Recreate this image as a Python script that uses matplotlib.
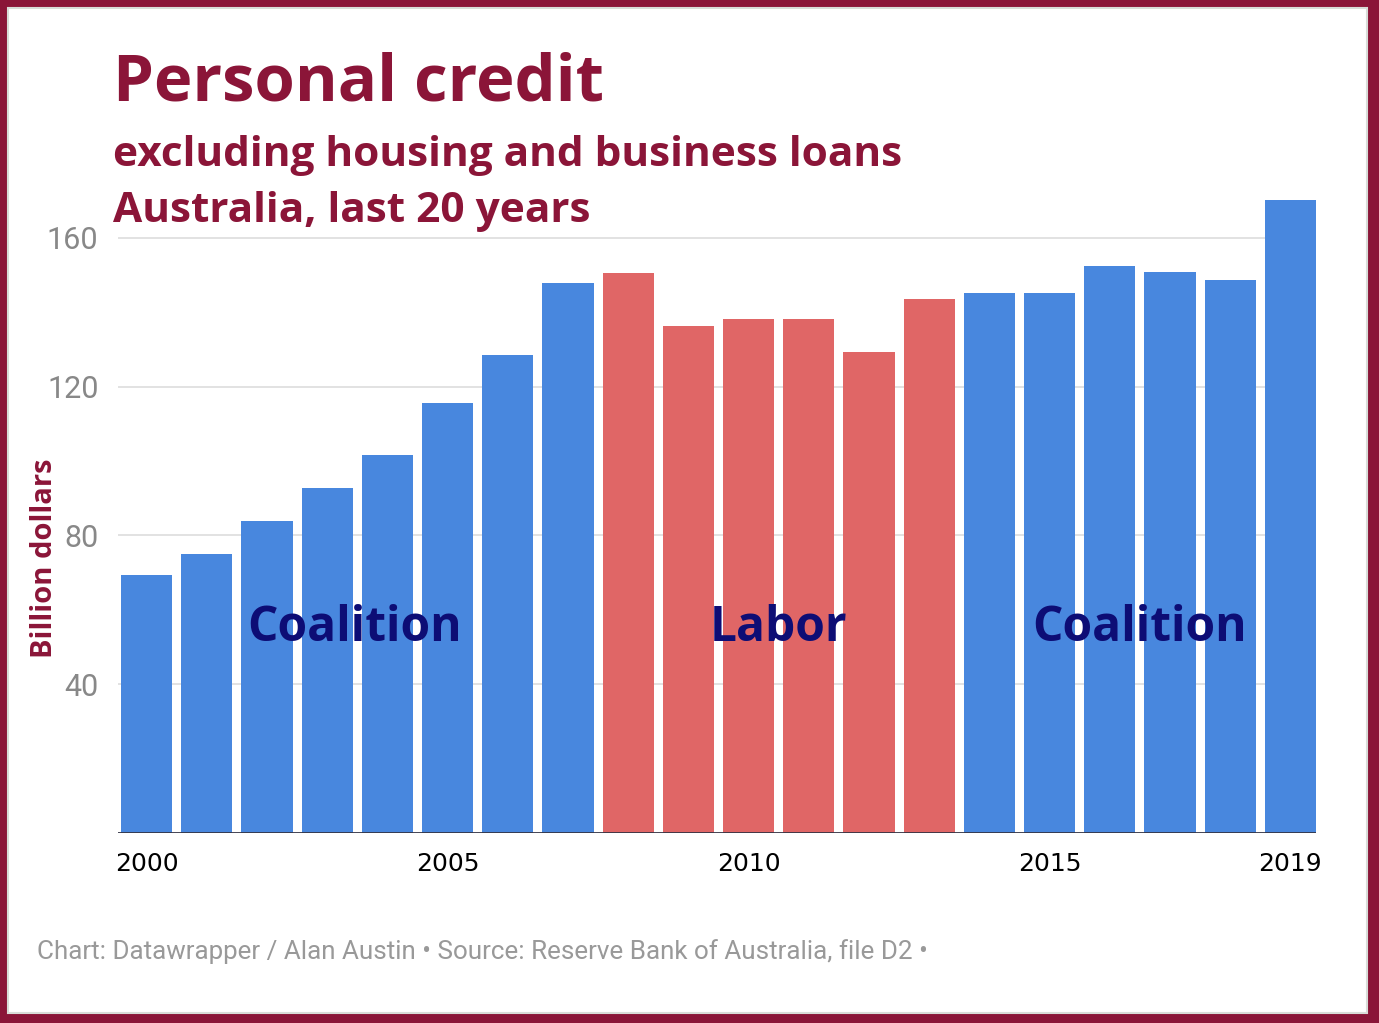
import numpy as np
import matplotlib.pyplot as plt
from matplotlib.patches import Rectangle

# data
years = np.arange(2000, 2020)
credit = [69.5, 75, 84, 92.7, 101.6, 115.6, 128.5, 147.8, 150.5, 136.3,
          138.2, 138.2, 129.3, 143.5, 145.2, 145.2, 152.4, 150.8, 148.7, 170.2]
party = ["C"] * 8 + ["L"] * 6 + ["C"] * 6
tick_years = [2000, 2005, 2010, 2015, 2019]
y_ticks = [40, 80, 120, 160]
labels = [("Coalition", 3.45), ("Labor", 10.5), ("Coalition", 16.5)]

W, H = 1379, 1023
fig = plt.figure(figsize=(W / 100, H / 100), dpi=100)
fig.patch.set_facecolor("#8a1538")

# white card inside the maroon frame
fig.patches.append(Rectangle((8 / W, 10 / H), (1367 - 8) / W, (1015 - 10) / H,
                             transform=fig.transFigure, facecolor="white",
                             edgecolor="#d8dcd8", lw=1.5, zorder=-10))

maroon = "#8b1538"
blue = "#4887de"
red = "#e06666"

left, right = 118 / W, 1316 / W
bottom, top = 1 - 833 / H, 1 - 193.3 / H
ax = fig.add_axes([left, bottom, right - left, top - bottom])
ax.set_facecolor("none")
ax.set_zorder(5)

idx = np.arange(len(years))
colors = [blue if p == "C" else red for p in party]
ax.bar(idx, credit, width=0.85, color=colors, zorder=2)

ax.set_xlim(-0.475, 19.425)
ax.set_ylim(0, 172)

for v in y_ticks:
    ax.axhline(v, color="#dddddd", lw=1.2, zorder=1)
ax.axhline(0, color="#333344", lw=2, zorder=3)

for s in ax.spines.values():
    s.set_visible(False)

ax.set_yticks(y_ticks)
ax.set_yticklabels([str(v) for v in y_ticks], fontsize=22, color="#888888",
                   family="Roboto")
ax.tick_params(axis="y", length=0, pad=14)

ax.set_xticks([list(years).index(y) for y in tick_years])
ax.set_xticklabels([str(y) for y in tick_years], fontsize=18, color="black",
                   family="DejaVu Sans")
ax.tick_params(axis="x", length=0, pad=14)

for name, xpos in labels:
    ax.text(xpos, 55, name, ha="center", va="center", fontsize=34.5,
            fontweight="bold", color="#0d0d75", family="Open Sans", zorder=4)

fig.text(45 / W, 1 - 558 / H, "Billion dollars", rotation=90, ha="center",
         va="center", fontsize=21, fontweight="bold", color=maroon,
         family="Open Sans")

fig.text(113 / W, 1 - 84 / H, "Personal credit", ha="left", va="center",
         fontsize=47, fontweight="bold", color=maroon, family="Open Sans")
fig.text(113 / W, 1 - 155 / H, "excluding housing and business loans",
         ha="left", va="center", fontsize=30.5, fontweight="bold", color=maroon,
         family="Open Sans")
fig.text(113 / W, 1 - 211 / H, "Australia, last 20 years", ha="left",
         va="center", fontsize=30.5, fontweight="bold", color=maroon,
         family="Open Sans")

fig.text(37 / W, 1 - 952 / H,
         "Chart: Datawrapper / Alan Austin \u2022 Source: Reserve Bank of Australia, file D2 \u2022",
         ha="left", va="center", fontsize=18.7, color="#999999", family="Roboto")

fig.savefig("out.png", dpi=100, facecolor=fig.get_facecolor())
